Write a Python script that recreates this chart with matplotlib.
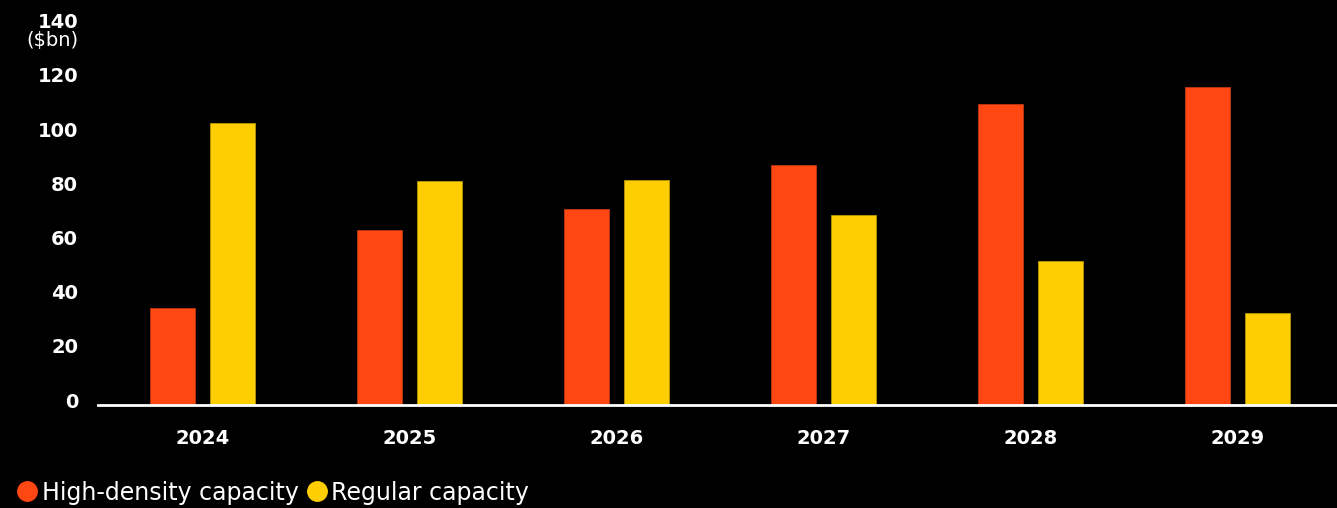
import numpy as np
import matplotlib.pyplot as plt
import matplotlib.transforms as mtrans
from matplotlib.lines import Line2D

# Data
years = ["2024", "2025", "2026", "2027", "2028", "2029"]
high_density = [35.7, 64.6, 72.2, 88.4, 111.0, 117.5]
regular = [104.2, 82.8, 82.9, 70.2, 53.0, 33.8]
yticks = [0, 20, 40, 60, 80, 100, 120, 140]

red = "#FF4713"
yellow = "#FFCE00"
plt.rcParams["font.family"] = ["DejaVu Sans"]

fig = plt.figure(figsize=(13.37, 5.08), dpi=100, facecolor="black")
ax = fig.add_axes([98 / 1337, 103 / 508, 1 - 98 / 1337, (405 - 25.6) / 508])
ax.set_facecolor("black")

x = np.arange(len(years))
w = 0.218
off = 0.145
ax.bar(x - off, high_density, w, color=red, edgecolor="#c0360f", linewidth=0.6)
ax.bar(x + off, regular, w, color=yellow, edgecolor="#b89400", linewidth=0.6)

ax.set_xlim(-0.505, 5.48)
ax.set_ylim(0, 140)

for s in ["top", "right", "left"]:
    ax.spines[s].set_visible(False)
ax.spines["bottom"].set_color("white")
ax.spines["bottom"].set_linewidth(2)

ax.set_xticks(x)
ax.set_xticklabels(years, color="white", fontsize=14, fontweight="bold")
ax.tick_params(axis="x", length=0, pad=17)
ax.set_yticks([])

# y labels, nudged up a little like the original
ylab_tr = mtrans.offset_copy(ax.get_yaxis_transform(), fig=fig, x=0, y=3, units="dots")
for v in yticks:
    ax.text(-0.016, v, str(v), transform=ylab_tr, ha="right", va="center",
            color="white", fontsize=14, fontweight="bold")
ax.text(-0.016, 133.5, "($bn)", transform=ylab_tr, ha="right", va="center",
        color="white", fontsize=14)

handles = [
    Line2D([], [], marker="o", linestyle="none", markersize=14,
           markerfacecolor=red, markeredgecolor=red),
    Line2D([], [], marker="o", linestyle="none", markersize=14,
           markerfacecolor=yellow, markeredgecolor=yellow),
]
leg = fig.legend(handles, ["High-density capacity", "Regular capacity"],
                 loc="lower left", bbox_to_anchor=(-0.006, -0.035), ncol=2,
                 frameon=False, handletextpad=0.0, columnspacing=0.2,
                 handlelength=1.2, fontsize=17)
for t in leg.get_texts():
    t.set_color("white")

fig.savefig("out.png", dpi=100, facecolor="black")
